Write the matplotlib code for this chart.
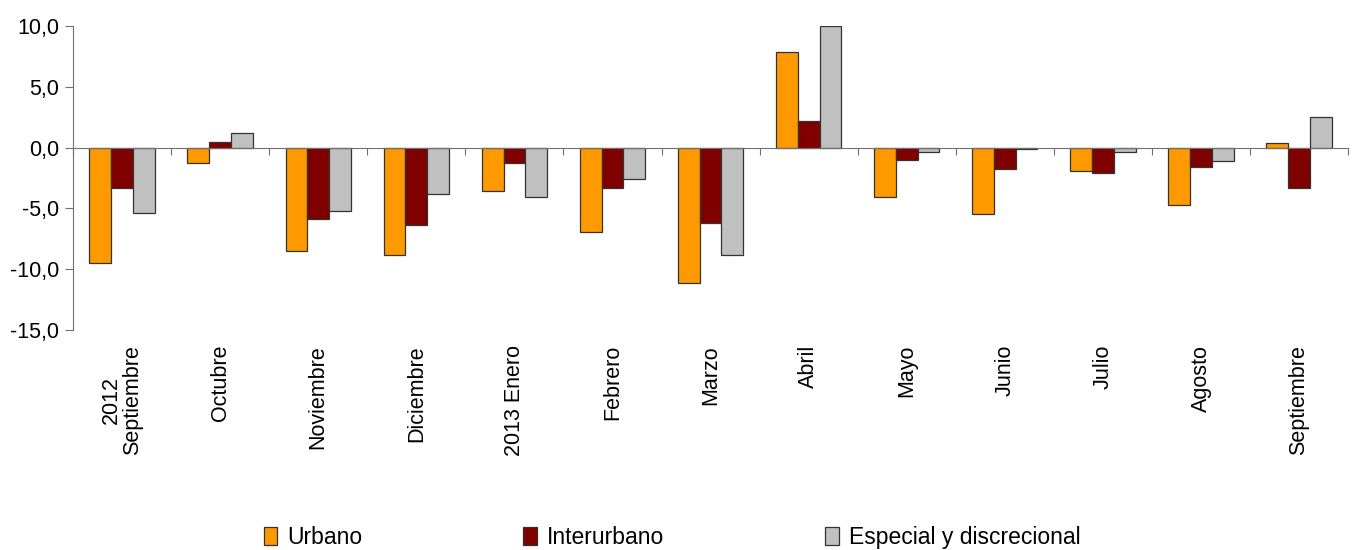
import numpy as np
import matplotlib
matplotlib.use("Agg")
import matplotlib.pyplot as plt
from matplotlib.ticker import FuncFormatter, FixedLocator

plt.rcParams["font.family"] = ["Liberation Sans", "DejaVu Sans"]

# Daten
meses = ["2012\nSeptiembre", "Octubre", "Noviembre", "Diciembre", "2013 Enero",
         "Febrero", "Marzo", "Abril", "Mayo", "Junio", "Julio", "Agosto", "Septiembre"]
urbano = [-9.5, -1.3, -8.5, -8.8, -3.6, -6.9, -11.1, 7.9, -4.1, -5.5, -1.9, -4.7, 0.4]
interurbano = [-3.3, 0.5, -5.9, -6.4, -1.3, -3.3, -6.2, 2.2, -1.0, -1.8, -2.1, -1.6, -3.3]
especial = [-5.4, 1.2, -5.2, -3.8, -4.1, -2.6, -8.8, 10.0, -0.4, -0.1, -0.4, -1.1, 2.5]

series = [("Urbano", urbano, "#ff9900"),
          ("Interurbano", interurbano, "#800000"),
          ("Especial y discrecional", especial, "#c0c0c0")]

fig = plt.figure(figsize=(13.55, 5.5), dpi=100)
ax = fig.add_axes([0.0539, 0.4, 0.941, 0.5527])

x = np.arange(len(meses))
w = 0.222
for i, (name, vals, col) in enumerate(series):
    ax.bar(x + (i - 1) * w, vals, width=w, color=col, edgecolor="#333333",
           linewidth=0.9, label=name, zorder=2)

ax.set_xlim(-0.5, len(meses) - 0.5)
ax.set_ylim(-15, 10)

# Achsen
axis_col = "#707070"
for s in ["top", "right"]:
    ax.spines[s].set_visible(False)
ax.spines["left"].set_color(axis_col)
ax.spines["bottom"].set_color(axis_col)
ax.spines["bottom"].set_position(("data", 0))
ax.spines["bottom"].set_zorder(3)

ax.set_yticks([-15, -10, -5, 0, 5, 10])
ax.yaxis.set_major_formatter(FuncFormatter(lambda v, p: f"{v:.1f}".replace(".", ",")))
ax.tick_params(axis="y", direction="out", length=6, color=axis_col, labelsize=15.5, pad=4)

ax.xaxis.set_major_locator(FixedLocator(np.arange(len(meses) + 1) - 0.5))
ax.tick_params(axis="x", direction="out", length=5, color=axis_col, labelbottom=False)

# Monatsbeschriftungen unten
for xi, lab in zip(x, meses):
    ax.text(xi, -15 - 15 / 12.16, lab, rotation=90, ha="center", va="top",
            multialignment="center", fontsize=15.5, linespacing=1.0)

fig.legend(loc="center", bbox_to_anchor=(0.496, 0.023), ncol=3, frameon=False,
           fontsize=16.5, handlelength=0.6, handleheight=0.85, handletextpad=0.45,
           columnspacing=7.0)

fig.savefig("out.png", dpi=100)
